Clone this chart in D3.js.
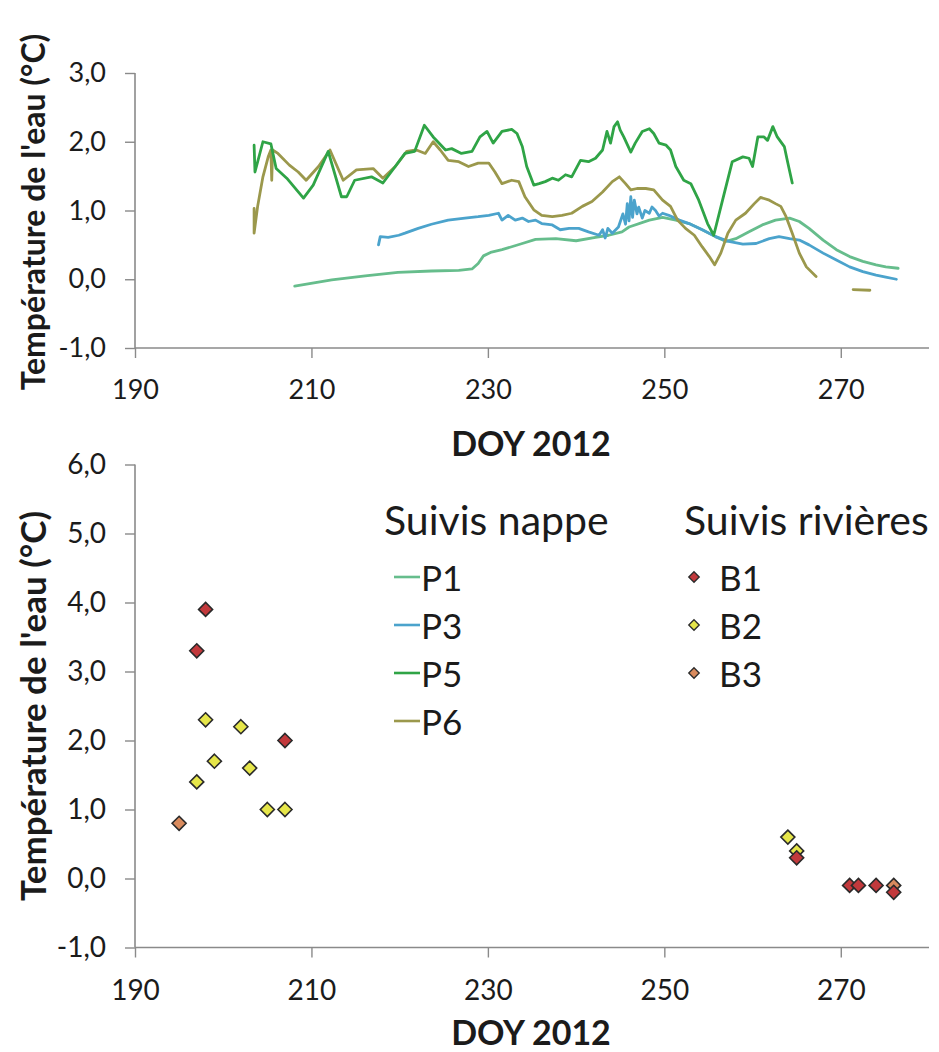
<!DOCTYPE html>
<html><head><meta charset="utf-8">
<script src="https://cdn.jsdelivr.net/npm/d3@7"></script>
<style>body{margin:0;background:#fff} svg{display:block}</style>
</head><body><svg id="c" width="939" height="1052"></svg>
<script>
// ---------- data ----------
const xTicks = [190, 210, 230, 250, 270];
const yTicksTop = [-1, 0, 1, 2, 3];
const yTicksBottom = [-1, 0, 1, 2, 3, 4, 5, 6];

const p1Days  = [208.1,212.3,216.1,219.8,223.6,226.7,228.2,228.9,229.5,230.3,231.6,233.9,235.4,237.7,240.0,242.2,243.7,245.2,246.0,248.3,249.8,251.3,252.8,254.3,255.8,257.0,258.1,259.6,261.1,262.6,264.2,265.3,266.4,268.0,269.5,271.0,272.5,274.0,275.1,276.5];
const p1Temps = [-0.10,-0.01,0.05,0.10,0.12,0.13,0.15,0.23,0.34,0.39,0.43,0.52,0.58,0.59,0.56,0.61,0.64,0.69,0.76,0.86,0.90,0.86,0.81,0.72,0.62,0.55,0.59,0.69,0.79,0.86,0.89,0.84,0.74,0.57,0.43,0.33,0.26,0.21,0.18,0.16];

const p3Days  = [217.6,217.8,218.7,219.9,220.6,222.1,223.6,225.5,227.4,228.9,230.1,231.2,231.6,232.3,233.1,233.9,234.6,235.4,236.1,237.3,238.2,239.2,240.3,241.4,242.6,243.0,243.3,243.6,244.1,244.8,245.3,245.6,245.8,246.0,246.2,246.4,246.6,246.9,247.1,247.5,247.8,248.3,248.6,249.0,249.4,249.8,250.5,251.7,252.8,254.3,255.8,257.3,258.9,260.4,261.9,263.0,264.2,265.3,266.4,268.0,269.5,271.0,272.5,274.0,275.1,276.3];
const p3Temps = [0.50,0.62,0.61,0.64,0.67,0.74,0.80,0.86,0.89,0.91,0.93,0.96,0.86,0.93,0.86,0.89,0.84,0.86,0.81,0.79,0.72,0.74,0.74,0.69,0.64,0.72,0.60,0.74,0.67,0.76,0.95,0.80,1.10,0.85,1.20,0.90,1.15,0.95,1.05,0.89,1.00,0.96,1.05,1.00,0.92,0.96,0.93,0.86,0.81,0.72,0.62,0.55,0.51,0.52,0.59,0.62,0.59,0.57,0.50,0.38,0.28,0.18,0.11,0.06,0.03,0.00];

const p5Days  = [203.5,203.6,204.5,205.4,206.0,207.2,209.1,210.2,211.9,213.4,214.0,214.9,216.8,218.1,219.5,220.6,221.7,222.8,223.8,225.2,225.9,227.0,228.2,229.1,229.9,230.6,231.6,232.7,233.3,233.9,234.4,235.2,235.8,236.5,237.3,238.0,238.8,239.5,240.5,241.4,242.2,243.0,243.5,243.9,244.3,244.7,245.0,245.4,246.2,246.7,247.5,248.3,248.8,249.4,250.2,250.7,251.3,252.2,253.0,253.9,254.9,255.6,256.6,257.7,258.9,259.6,260.0,260.6,261.3,261.7,262.3,262.8,263.6,264.0,264.5];
const p5Temps = [1.95,1.56,2.00,1.97,1.61,1.47,1.18,1.37,1.86,1.20,1.20,1.44,1.49,1.40,1.64,1.83,1.86,2.24,2.07,1.88,1.90,1.83,1.86,2.07,2.15,1.98,2.15,2.18,2.12,1.93,1.64,1.37,1.39,1.42,1.47,1.44,1.52,1.49,1.73,1.71,1.76,1.88,2.15,1.98,2.22,2.29,2.17,2.07,1.85,1.98,2.15,2.19,2.12,1.98,1.95,1.88,1.64,1.44,1.39,1.15,0.81,0.64,1.15,1.71,1.78,1.76,1.64,2.07,2.07,2.02,2.22,2.07,1.93,1.69,1.40];

const p6Days  = [203.5,203.5,203.9,204.5,205.1,205.4,205.5,205.6,206.2,207.5,208.5,209.4,210.8,212.1,213.6,215.1,217.0,218.1,219.5,220.8,221.9,222.9,223.8,224.6,225.5,226.7,227.8,228.9,230.1,230.8,231.6,232.7,233.5,234.2,235.2,236.1,237.3,238.4,239.5,240.7,241.8,243.0,244.1,244.9,245.6,246.2,246.9,247.9,248.8,249.8,250.7,251.5,252.4,253.4,254.3,255.1,255.7,256.4,257.2,258.1,259.2,260.2,260.9,261.9,262.6,263.2,263.8,264.5,265.3,266.1,267.2,269.0,271.4,273.3];
const p6Temps = [1.03,0.67,1.06,1.49,1.78,1.88,1.44,1.88,1.83,1.66,1.56,1.44,1.64,1.88,1.44,1.59,1.61,1.47,1.64,1.86,1.88,1.83,2.00,1.88,1.73,1.71,1.64,1.69,1.69,1.56,1.39,1.44,1.42,1.20,1.01,0.93,0.91,0.93,0.96,1.06,1.13,1.27,1.42,1.49,1.39,1.30,1.32,1.32,1.30,1.15,1.06,0.86,0.74,0.64,0.47,0.33,0.21,0.38,0.67,0.86,0.96,1.10,1.19,1.15,1.10,1.06,0.91,0.67,0.38,0.18,0.04,NaN,-0.15,-0.16];

const b1Days  = [198, 197, 207, 265, 271, 272, 274, 276];
const b1Temps = [3.9, 3.3, 2.0, 0.3, -0.1, -0.1, -0.1, -0.2];
const b2Days  = [198, 202, 199, 203, 197, 205, 207, 264, 265];
const b2Temps = [2.3, 2.2, 1.7, 1.6, 1.4, 1.0, 1.0, 0.6, 0.4];
const b3Days  = [195, 276];
const b3Temps = [0.8, -0.1];

const lineSeries = [
  {name: "P1", days: p1Days, temps: p1Temps, color: "#66bd8c"},
  {name: "P3", days: p3Days, temps: p3Temps, color: "#4ba3cc"},
  {name: "P5", days: p5Days, temps: p5Temps, color: "#2fa446"},
  {name: "P6", days: p6Days, temps: p6Temps, color: "#9b984c"}
];
const pointSeries = [
  {name: "B1", days: b1Days, temps: b1Temps, color: "#c2393c"},
  {name: "B2", days: b2Days, temps: b2Temps, color: "#e6e64a"},
  {name: "B3", days: b3Days, temps: b3Temps, color: "#d98b5e"}
];

// ---------- drawing ----------
const svg = d3.select("#c");
const FONT = "Lato, 'Open Sans', sans-serif";
const axisColor = "#8a8a8a";
const textColor = "#1b1b1b";

const x = d3.scaleLinear().domain([190, 280]).range([135, 929]);
const yTop = d3.scaleLinear().domain([-1, 3]).range([348, 73]);
const yBot = d3.scaleLinear().domain([-1, 6]).range([947.5, 464.5]);

function drawAxes(o) {
  const y = o.y;
  const g = svg.append("g");
  const ya = g.append("g").attr("transform", `translate(${x(190)},0)`)
    .call(d3.axisLeft(y).tickValues(o.yTicks).tickSize(10).tickPadding(19)
      .tickFormat(d => d3.format(".1f")(d).replace(".", ",").replace("\u2212", "-")));
  const xa = g.append("g").attr("transform", `translate(0,${o.xAxisY})`)
    .call(d3.axisBottom(x).tickValues(xTicks).tickSize(10).tickPadding(o.xPad)
      .tickFormat(d3.format("d")));
  [ya, xa].forEach(a => {
    a.select(".domain").attr("stroke", axisColor).attr("stroke-width", 1.6);
    a.selectAll(".tick line").attr("stroke", axisColor).attr("stroke-width", 1.4);
    a.selectAll(".tick text").attr("fill", textColor).style("font-family", FONT).style("font-size", o.tickSize + "px");
  });
  ya.select(".domain").attr("d", `M0,${y.range()[0]}V${y.range()[1]}`);
  xa.select(".domain").attr("d", `M${x.range()[0]},0H${x.range()[1]}`);
  g.append("text").attr("x", 531).attr("y", o.xTitleY)
    .attr("text-anchor", "middle").attr("fill", textColor)
    .style("font-family", FONT).style("font-weight", "bold").style("font-size", "34px")
    .text("DOY 2012");
  g.append("text").attr("transform", `translate(37,${o.yTitleCenter}) rotate(-90)`)
    .attr("text-anchor", "middle").attr("dominant-baseline", "middle").attr("fill", textColor)
    .style("font-family", FONT).style("font-weight", "bold").style("font-size", o.yTitleSize + "px")
    .text("Température de l'eau (°C)");
}

drawAxes({y: yTop, yTicks: yTicksTop, xAxisY: 348, xPad: 22, tickSize: 27, xTitleY: 456, yTitleCenter: 212, yTitleSize: 32});
drawAxes({y: yBot, yTicks: yTicksBottom, xAxisY: 947.5, xPad: 23, tickSize: 28, xTitleY: 1045, yTitleCenter: 706, yTitleSize: 35});

// lines (top chart)
const line = d3.line()
  .defined(d => !isNaN(d[1]))
  .x(d => x(d[0])).y(d => yTop(d[1]));
const drawOrder = ["P1", "P3", "P6", "P5"];
drawOrder.forEach(n => {
  const s = lineSeries.find(v => v.name === n);
  const pts = s.days.map((d, i) => [d, s.temps[i]]);
  svg.append("path").attr("d", line(pts)).attr("fill", "none")
    .attr("stroke", s.color).attr("stroke-width", 2.8)
    .attr("stroke-linejoin", "round").attr("stroke-linecap", "round");
});

// points (bottom chart)
const diamond = d3.symbol().type(d3.symbolDiamond2).size(125);
[pointSeries[2], pointSeries[1], pointSeries[0]].forEach(s => {
  svg.append("g").selectAll("path").data(s.days.map((d, i) => [d, s.temps[i]]))
    .join("path")
    .attr("transform", d => `translate(${x(d[0])},${yBot(d[1])})`)
    .attr("d", diamond).attr("fill", s.color)
    .attr("stroke", "#2a2a2a").attr("stroke-width", 1.6);
});

// legend
const lg = svg.append("g").style("font-family", FONT).attr("fill", textColor);
lg.append("text").attr("x", 384).attr("y", 535).style("font-size", "41px").text("Suivis nappe");
lg.append("text").attr("x", 684).attr("y", 535).style("font-size", "41px").text("Suivis rivières");
const rowY = i => 577 + i * 48;
lineSeries.forEach((s, i) => {
  lg.append("line").attr("x1", 394).attr("x2", 420).attr("y1", rowY(i)).attr("y2", rowY(i))
    .attr("stroke", s.color).attr("stroke-width", 2.6);
  lg.append("text").attr("x", 421).attr("y", rowY(i)).attr("dominant-baseline", "central")
    .style("font-size", "35px").text(s.name);
});
const legDiamond = d3.symbol().type(d3.symbolDiamond2).size(70);
pointSeries.forEach((s, i) => {
  lg.append("path").attr("transform", `translate(${694},${rowY(i)})`).attr("d", legDiamond)
    .attr("fill", s.color).attr("stroke", "#2a2a2a").attr("stroke-width", 1.3);
  lg.append("text").attr("x", 719).attr("y", rowY(i)).attr("dominant-baseline", "central")
    .style("font-size", "35px").text(s.name);
});
</script>
</body></html>
